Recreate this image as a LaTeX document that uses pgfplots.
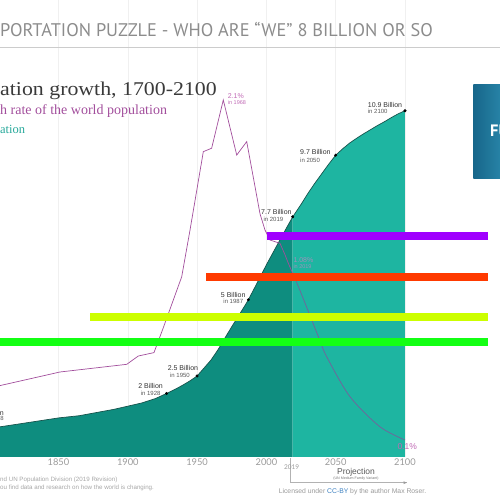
\documentclass[border=0pt]{standalone}
\usepackage{fontspec}
\usepackage{pgfplots}
\pgfplotsset{compat=1.18}
\setmainfont{Liberation Serif}
\newfontfamily\hdr{PT Sans}
\newfontfamily\sansf{Liberation Sans}
\newfontfamily\lato{Lato}
\definecolor{tealdark}{HTML}{0E8D7F}
\definecolor{teallight}{HTML}{1EB5A1}
\definecolor{curvecol}{HTML}{17534C}
\definecolor{magline}{HTML}{A24E9C}
\definecolor{maglight}{HTML}{C06AB5}
\definecolor{projline}{HTML}{74629C}
\definecolor{titlecol}{HTML}{3A3A3A}
\definecolor{subteal}{HTML}{26A89A}
\definecolor{hdrgray}{HTML}{8C8C8C}
\definecolor{barpurple}{HTML}{A000FF}
\definecolor{barred}{HTML}{FF3A00}
\definecolor{baryellow}{HTML}{CCFF00}
\definecolor{bargreen}{HTML}{14FF14}
\definecolor{boxdark}{HTML}{17668A}
\definecolor{boxlight}{HTML}{2A88AB}
\definecolor{tickgray}{HTML}{9A9A9A}
\definecolor{ccblue}{HTML}{3A7FC0}
\pgfplotstableread{
year pop
1807.8 0.95
1820 1.03
1835 1.13
1850 1.23
1865 1.30
1880 1.42
1890 1.50
1900 1.60
1910 1.70
1920 1.84
1928 2.00
1935 2.15
1940 2.27
1945 2.40
1950 2.55
1955 2.80
1960 3.05
1965 3.37
1970 3.74
1975 4.10
1980 4.45
1985 4.80
1987 4.95
1990 5.20
1995 5.62
2000 6.05
2005 6.45
2010 6.85
2015 7.25
2019 7.56
}\histpop
\pgfplotstableread{
year pop
2019 7.56
2025 7.95
2030 8.30
2035 8.62
2040 8.92
2045 9.22
2050 9.50
2055 9.70
2060 9.88
2065 10.03
2070 10.17
2075 10.30
2080 10.43
2085 10.55
2090 10.68
2095 10.80
2100 10.90
}\projpop
\begin{document}
\begin{tikzpicture}[x=1pt,y=1pt]
\useasboundingbox (0,0) rectangle (500,500);
\begin{scope}
\clip (0,0) rectangle (500,500);

% population axis
\begin{axis}[at={(0pt,43pt)}, anchor=south west, scale only axis, width=500pt, height=457pt,
  xmin=1807.8, xmax=2168.55, ymin=0, ymax=14.385,
  hide y axis, axis x line*=bottom, x axis line style={draw=none},
  xtick={1850,1900,1950,2000,2050,2100},
  xticklabels={1850,1900,1950,2000,2050,2100},
  major tick length=0pt,
  xticklabel style={font=\lato\fontsize{9.3}{10}\selectfont, text=tickgray, anchor=north, yshift=1.5pt},
  xmajorgrids, grid style={draw=black!6, line width=0.5pt}]
\addplot[fill=tealdark, draw=none] table[x=year,y=pop] {\histpop} \closedcycle;
\addplot[fill=teallight, draw=none] table[x=year,y=pop] {\projpop} \closedcycle;
\addplot[draw=curvecol, line width=0.7pt] table[x=year,y=pop] {\histpop};
\addplot[draw=curvecol, line width=0.7pt] table[x=year,y=pop] {\projpop};
\addplot[draw=black!35, line width=0.5pt] coordinates {(1700,0) (2106.5,0)};
\addplot[only marks, mark=*, mark size=1.3pt, black] coordinates {
 (1928,2.0) (1950,2.55) (1987,4.95) (2019,7.56) (2050,9.5) (2100,10.9)};
\end{axis}

% growth rate axis
\begin{axis}[at={(0pt,43pt)}, anchor=south west, scale only axis, width=500pt, height=457pt,
  xmin=1807.8, xmax=2168.55, ymin=0, ymax=2.688, hide axis]
\addplot[draw=magline, line width=0.7pt] coordinates {
 (1807.8,0.42) (1851.1,0.50) (1899.2,0.545) (1907.6,0.594) (1918.9,0.614) (1925.6,0.76)
 (1938.9,1.06) (1944.9,1.335) (1954.5,1.796) (1960.5,1.816) (1968.9,2.1) (1978.6,1.776)
 (1985.8,1.855) (1991.8,1.59) (1995.4,1.43) (1999.0,1.335) (2002.6,1.276) (2009.8,1.257)
 (2013.4,1.19) (2015.8,1.14) (2019,1.08)};
\addplot[draw=projline, line width=0.7pt, smooth] coordinates {
 (2019,1.08) (2024.2,0.98) (2037.4,0.71) (2043.5,0.59) (2060.3,0.355) (2081.9,0.178) (2100,0.1)};
\end{axis}

% header
\node[anchor=base west, inner sep=0, text=hdrgray, font=\hdr\fontsize{18.3}{19}\selectfont] at (0,463.3) {PORTATION PUZZLE - WHO ARE “WE” 8 BILLION OR SO};
\draw[black!20, line width=1pt] (0,452.7) -- (500,452.7);
% title
\node[anchor=base west, inner sep=0, text=titlecol, font=\fontsize{19.5}{20}\selectfont] at (0,404) {\scalebox{1.12}[1]{ation growth, 1700-2100}};
\node[anchor=base west, inner sep=0, text=magline, font=\fontsize{14}{15}\selectfont] at (0,385.7) {h rate of the world population};
\node[anchor=base west, inner sep=0, text=subteal, font=\fontsize{12.5}{13}\selectfont] at (0,366) {ation};

% point labels
\node[anchor=base east, inner sep=0, text=black!80, font=\sansf\fontsize{7}{7}\selectfont] at (163,111.5) {2 Billion};
\node[anchor=base east, inner sep=0, text=black!65, font=\sansf\fontsize{6}{6}\selectfont] at (160.7,104.5) {in 1928};
\node[anchor=base east, inner sep=0, text=black!80, font=\sansf\fontsize{7}{7}\selectfont] at (198.3,129.2) {2.5 Billion};
\node[anchor=base east, inner sep=0, text=black!65, font=\sansf\fontsize{6}{6}\selectfont] at (190,122.5) {in 1950};
\node[anchor=base east, inner sep=0, text=black!80, font=\sansf\fontsize{7}{7}\selectfont] at (245.7,202.5) {5 Billion};
\node[anchor=base east, inner sep=0, text=black!65, font=\sansf\fontsize{6}{6}\selectfont] at (243.3,196) {in 1987};
\node[anchor=base west, inner sep=0, text=black!80, font=\sansf\fontsize{7}{7}\selectfont] at (261,285.5) {7.7 Billion};
\node[anchor=base west, inner sep=0, text=black!65, font=\sansf\fontsize{6}{6}\selectfont] at (263.3,278.5) {in 2019};
\node[anchor=base west, inner sep=0, text=black!80, font=\sansf\fontsize{7}{7}\selectfont] at (300,345) {9.7 Billion};
\node[anchor=base west, inner sep=0, text=black!65, font=\sansf\fontsize{6}{6}\selectfont] at (300,337.5) {in 2050};
\node[anchor=base west, inner sep=0, text=black!80, font=\sansf\fontsize{7}{7}\selectfont] at (367.7,392.5) {10.9 Billion};
\node[anchor=base west, inner sep=0, text=black!65, font=\sansf\fontsize{6}{6}\selectfont] at (367.7,386) {in 2100};
\node[anchor=base west, inner sep=0, text=maglight, font=\sansf\fontsize{7}{7}\selectfont] at (227.7,401.5) {2.1\%};
\node[anchor=base west, inner sep=0, text=maglight, font=\sansf\fontsize{5.5}{6}\selectfont] at (227.7,395) {in 1968};
\node[anchor=base west, inner sep=0, text=projline!70, font=\sansf\fontsize{7}{7}\selectfont] at (293.3,237.5) {1.08\%};
\node[anchor=base west, inner sep=0, text=projline!70, font=\sansf\fontsize{5.5}{6}\selectfont] at (293.3,231.5) {in 2019};
\node[anchor=base west, inner sep=0, text=maglight, font=\sansf\fontsize{8.5}{9}\selectfont] at (397.3,50.5) {0.1\%};
\node[anchor=base east, inner sep=0, text=black!80, font=\sansf\fontsize{7}{7}\selectfont] at (4,84.3) {n};
\node[anchor=base east, inner sep=0, text=black!65, font=\sansf\fontsize{6}{6}\selectfont] at (4,79.3) {8};

% projection marker
\draw[black!30, line width=0.5pt] (290.7,42) -- (290.7,17.3) -- (406.7,17.3);
\fill[black!40] (406.7,17.3) -- (403.5,18.8) -- (403.5,15.8) -- cycle;
\node[text=tickgray, font=\lato\fontsize{6.5}{7}\selectfont, inner sep=0] at (291.7,33.3) {2019};
\node[text=black!65, font=\sansf\fontsize{8.5}{9}\selectfont, inner sep=0] at (356,27.3) {Projection};
\node[text=black!55, font=\sansf\fontsize{3.6}{4}\selectfont, inner sep=0] at (356,21) {(UN Medium Family Variant)};

% footer
\node[anchor=base west, inner sep=0, text=black!35, font=\sansf\fontsize{6.2}{7}\selectfont] at (0,18) {nd UN Population Division (2019 Revision)};
\node[anchor=base west, inner sep=0, text=black!35, font=\sansf\fontsize{6.2}{7}\selectfont] at (0,10) {ou find data and research on how the world is changing.};
\node[anchor=base, inner sep=0, text=black!40, font=\sansf\fontsize{6.8}{7}\selectfont] at (352.5,6) {Licensed under \textcolor{ccblue}{CC-BY} by the author Max Roser.};

% overlay bars
\fill[barpurple] (266.7,260) rectangle (488.3,268.3);
\fill[barred] (206,219.3) rectangle (488.3,227.3);
\fill[baryellow] (90,179) rectangle (488.3,186.7);
\fill[bargreen] (0,154) rectangle (488.3,161.7);

% side box
\shade[left color=boxdark, right color=boxlight] (473.3,321.7) rectangle (505,415);
\node[anchor=base west, inner sep=0, text=white, font=\hdr\bfseries\fontsize{16.5}{17}\selectfont] at (490,363.3) {FU};
\end{scope}
\end{tikzpicture}
\end{document}
